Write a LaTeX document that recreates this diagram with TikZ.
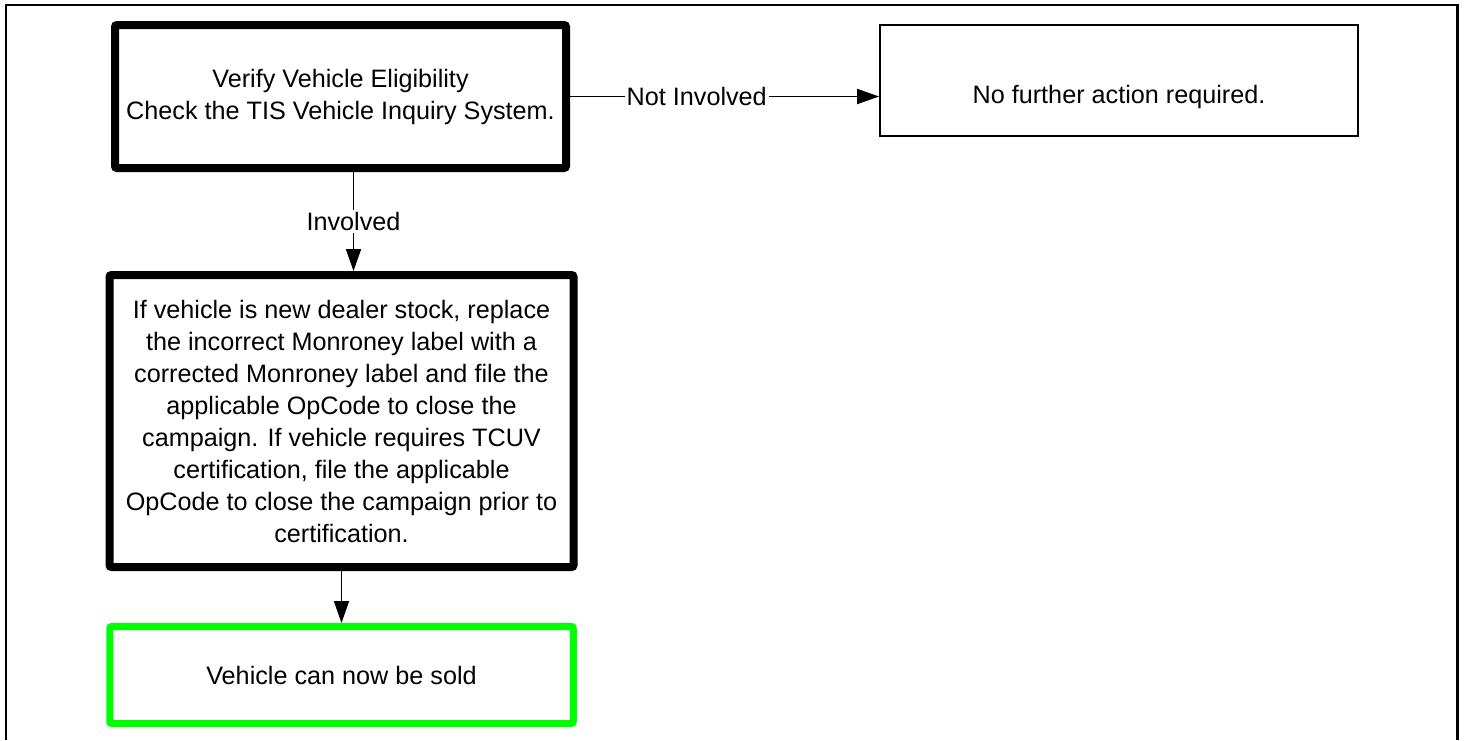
\documentclass[tikz,border=0pt]{standalone}
\usepackage{fontspec}
\setmainfont{Liberation Sans}
\usepackage{tikz}
\usetikzlibrary{positioning,calc,arrows.meta}
\definecolor{soldgreen}{RGB}{0,255,0}

\begin{document}
\begin{tikzpicture}[x=0.5pt,y=-0.5pt,>={Triangle[length=11pt,width=7.5pt]},
		font=\fontsize{12.6}{16}\selectfont,
		heavy/.style={draw,line width=4pt,rounded corners=1pt,align=center,inner sep=0pt},
		light/.style={draw,line width=0.9pt,inner sep=0pt},
		conn/.style={line width=0.9pt},
		lbl/.style={fill=white,inner sep=1pt}]
		\useasboundingbox (0,0) rectangle (1465,740);
		\draw[line width=1.4pt] (6,740) -- (6,5) -- (1457.5,5) -- (1457.5,740);

		\node[heavy,minimum width=225.5pt,minimum height=71.5pt] (verify) at (340.5,96.5)
			{Verify Vehicle Eligibility\\Check the TIS Vehicle Inquiry System.};
		\node[light,minimum width=239pt,minimum height=55.5pt] (noaction) at (1119,80.5) {};
		\node (noactiontxt) at (1119,97) {No further action required.};
		\node[heavy,minimum width=232pt,minimum height=146pt] (replace) at (341.5,421)
			{If vehicle is new dealer stock, replace\\
			the incorrect Monroney label with a\\
			corrected Monroney label and file the\\
			applicable OpCode to close the\\
			campaign. If vehicle requires TCUV\\
			certification, file the applicable\\
			OpCode to close the campaign prior to\\
			certification.};
		\node[heavy,draw=soldgreen,line width=3.5pt,minimum width=231.75pt,minimum height=48.5pt] (sold) at (341.5,675)
			{Vehicle can now be sold};

		\draw[->,conn] (verify.east) -- (verify.east -| noaction.west)
			node[lbl,pos=0.41] {Not Involved};
		\draw[->,conn] ([xshift=6.5pt]verify.south) -- ([xshift=6.5pt]verify.south |- replace.north)
			node[lbl,midway] {Involved};
		\draw[->,conn] (replace.south) -- (replace.south |- sold.north);
	\end{tikzpicture}
\end{document}
